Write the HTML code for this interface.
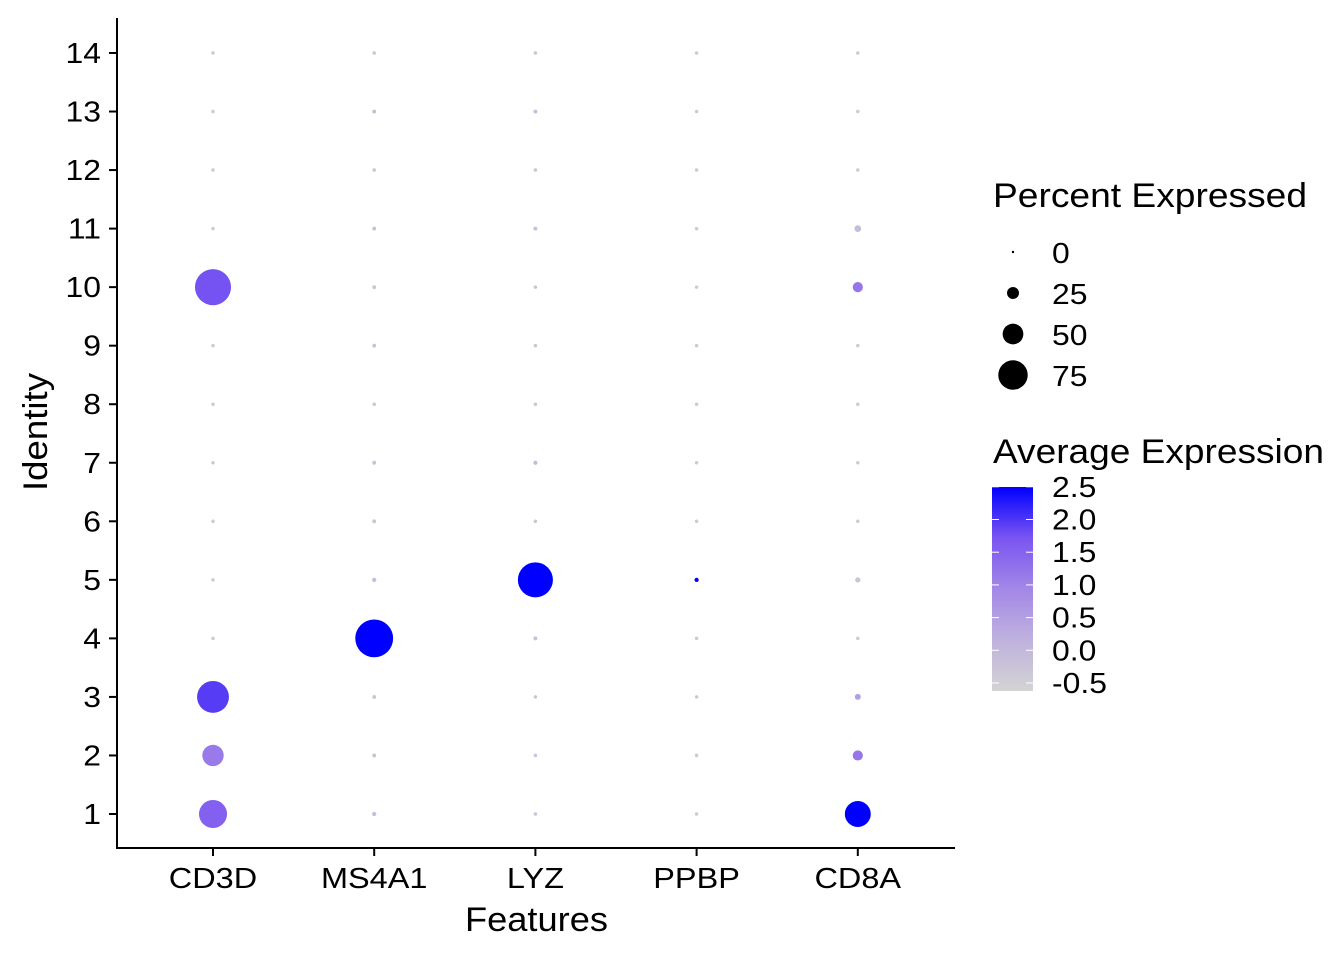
<!DOCTYPE html>
<html><head><meta charset="utf-8"><style>
html,body{margin:0;padding:0;background:#fff;}
svg text{font-family:"Liberation Sans",Arial,sans-serif;fill:#000;}
</style></head><body>
<svg id="chart" width="1344" height="960" viewBox="0 0 1344 960" xmlns="http://www.w3.org/2000/svg">
<defs>
<linearGradient id="cbar" x1="0" y1="1" x2="0" y2="0">
<stop offset="0" stop-color="#D3D3D3"/>
<stop offset="0.25" stop-color="#BFB2DE"/>
<stop offset="0.5" stop-color="#A487E7"/>
<stop offset="0.75" stop-color="#7A55F1"/>
<stop offset="1" stop-color="#0000FF"/>
</linearGradient>
</defs>
<g id="marks"></g>
<line x1="117" y1="18" x2="117" y2="849" stroke="#000" stroke-width="2"/>
<line x1="116" y1="848" x2="955" y2="848" stroke="#000" stroke-width="2"/>
<g id="yticks"></g>
<g id="xticks"></g>
<text x="465" y="931" font-size="34" textLength="143" lengthAdjust="spacingAndGlyphs">Features</text>
<text transform="translate(47,491) rotate(-90)" font-size="34" textLength="118" lengthAdjust="spacingAndGlyphs">Identity</text>
<text x="993" y="207" font-size="34" textLength="314" lengthAdjust="spacingAndGlyphs">Percent Expressed</text>
<g id="sizeleg"></g>
<text x="993" y="463" font-size="34" textLength="331" lengthAdjust="spacingAndGlyphs">Average Expression</text>
<rect x="992" y="487" width="41" height="204" fill="url(#cbar)"/>
<g id="cleg"></g>
</svg>
<script>
const features = ["CD3D","MS4A1","LYZ","PPBP","CD8A"];
const identities = [1,2,3,4,5,6,7,8,9,10,11,12,13,14];
const pctCD3D  = [71,52,82,1,1,1,1,1,1,94,1,1,1,1];
const pctMS4A1 = [3,2,2,99,3,2,2,1,2,2,2,1,2,1];
const pctLYZ   = [1,1,1,2,91,1,3,1,1,1,2,1,2,1];
const pctPPBP  = [1,1,1,1,3,1,1,1,1,1,1,1,1,1];
const pctCD8A  = [65,20,8,1,6,1,1,1,1,20,10,1,1,1];
const expCD3D  = [1.55,1.15,1.95,-0.4,-0.4,-0.4,-0.4,-0.4,-0.4,1.75,-0.4,-0.4,-0.4,-0.4];
const expMS4A1 = [-0.1,-0.3,-0.3,2.5,-0.1,-0.3,-0.2,-0.3,-0.2,-0.3,-0.2,-0.3,-0.1,-0.3];
const expLYZ   = [-0.3,-0.3,-0.3,-0.2,2.5,-0.3,-0.1,-0.3,-0.3,-0.3,-0.2,-0.3,-0.1,-0.3];
const expPPBP  = [-0.4,-0.4,-0.4,-0.4,2.5,-0.4,-0.4,-0.4,-0.4,-0.4,-0.4,-0.4,-0.4,-0.4];
const expCD8A  = [2.5,1.2,0.5,-0.4,-0.3,-0.4,-0.4,-0.4,-0.4,1.2,-0.1,-0.4,-0.4,-0.4];
const pctAll = [pctCD3D,pctMS4A1,pctLYZ,pctPPBP,pctCD8A];
const expAll = [expCD3D,expMS4A1,expLYZ,expPPBP,expCD8A];
const sizeBreaks = [0,25,50,75];
const colorBreaks = [-0.5,0.0,0.5,1.0,1.5,2.0,2.5];

const NS="http://www.w3.org/2000/svg";
const xScale = i => 213 + i*161.2;
const yScale = v => 814 - (v-1)*58.54;
const rScale = p => 1.6 + 0.175*p;
const stops=[[0,[211,211,211]],[0.25,[191,178,222]],[0.5,[164,135,231]],[0.75,[122,85,241]],[1,[0,0,255]]];
const cMin=-0.62,cMax=2.5;
function color(v){
  let t=Math.max(0,Math.min(1,(v-cMin)/(cMax-cMin)));
  for(let k=1;k<stops.length;k++){
    if(t<=stops[k][0]){
      const a=stops[k-1],b=stops[k],u=(t-a[0])/(b[0]-a[0]);
      const c=a[1].map((x,j)=>Math.round(x+(b[1][j]-x)*u));
      return `rgb(${c.join(',')})`;
    }
  }
  return "rgb(0,0,255)";
}
function mk(tag,attrs,parent){const e=document.createElementNS(NS,tag);for(const k in attrs)e.setAttribute(k,attrs[k]);parent.appendChild(e);return e;}
const marks=document.getElementById('marks');
features.forEach((f,i)=>{
  identities.forEach((id,j)=>{
    const c=mk('circle',{cx:xScale(i),cy:yScale(id),r:rScale(pctAll[i][j]),fill:color(expAll[i][j])},marks);
    
    
  });
});
const yt=document.getElementById('yticks');
identities.forEach(id=>{
  const l=mk('line',{x1:109,x2:117,y1:yScale(id),y2:yScale(id),stroke:'#000','stroke-width':2},yt);
  
  
  const t=mk('text',{x:101,y:yScale(id)+10,'font-size':29,'text-anchor':'end',transform:`translate(101,0) scale(1.1,1) translate(-101,0)`},yt);
  t.textContent=id;
  
  
});
const xt=document.getElementById('xticks');
features.forEach((f,i)=>{
  const l=mk('line',{x1:xScale(i),x2:xScale(i),y1:848,y2:856,stroke:'#000','stroke-width':2},xt);
  
  
  const x=xScale(i);
  const t=mk('text',{x:x,y:888,'font-size':29,'text-anchor':'middle',transform:`translate(${x},0) scale(1.12,1) translate(${-x},0)`},xt);
  t.textContent=f;
  
  
});
const sl=document.getElementById('sizeleg');
sizeBreaks.forEach((p,k)=>{
  const y=252+k*41;
  const c=mk('circle',{cx:1013,cy:y,r:rScale(p)-(p===0?0.4:0),fill:'#000'},sl);
  
  
  const t=mk('text',{x:1052,y:y+11,'font-size':29,transform:`translate(1052,0) scale(1.1,1) translate(-1052,0)`},sl);
  t.textContent=p;
  
  
});
const cl=document.getElementById('cleg');
const cbY = v => 683 - (v+0.5)*65.4;
colorBreaks.forEach(v=>{
  const y=cbY(v);
  const a=mk('line',{x1:992,x2:999,y1:y,y2:y,stroke:'#fff','stroke-width':1},cl);
  
  
  const b=mk('line',{x1:1026,x2:1033,y1:y,y2:y,stroke:'#fff','stroke-width':1},cl);
  
  
  const t=mk('text',{x:1052,y:y+10,'font-size':29,transform:`translate(1052,0) scale(1.1,1) translate(-1052,0)`},cl);
  t.textContent=v.toFixed(1);
  
  
});
</script>
</body></html>
